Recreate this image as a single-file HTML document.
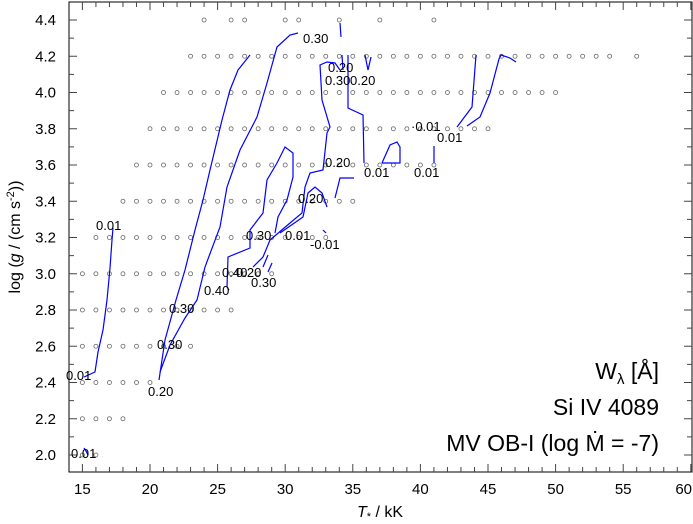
<!DOCTYPE html>
<html><head><meta charset="utf-8"><style>
html,body{margin:0;padding:0;background:#fff;}
svg{display:block;font-family:"Liberation Sans",sans-serif;}
</style></head><body>
<svg id="s" width="693" height="524" viewBox="0 0 693 524" xmlns="http://www.w3.org/2000/svg">
<rect x="69" y="2" width="623" height="470" fill="none" stroke="#000" stroke-width="1"/>
<g id="dots" fill="none" stroke="#666" stroke-width="0.8"></g>
<g id="ticks" stroke="#000" stroke-width="1"></g>
<g fill="none" stroke="#0000ff" stroke-width="1.2">
<polyline points="84,377 95,372 98,352 103,330 107,300 110,268 112,240 113,228"/>
<polyline points="84,448 86,451 88,455"/>
<polyline points="159,380 165,340 176,300 185,270 195,230 203,200 210,170 222,120 230,90 238,70 250,55"/>
<polyline points="160,372 170,345 185,318 197,300 205,267 220,227 227,187 240,150 257,117 267,83 277,47 290,35 298,33"/>
<polyline points="229,290 227,287 228,257 250,248 250,230 263,213 267,180 277,163 285,147 293,153 293,177 287,200 278,217 275,233"/>
<polyline points="253,267 263,257 270,240 290,223 302,213 305,187 310,173 323,170 327,133 330,127 322,100 320,65 327,62 335,63 340,70"/>
<polyline points="280,233 303,217 308,193 315,187 322,193 327,207"/>
<polyline points="340,23 341,37"/>
<polyline points="342,55 343,70"/>
<polyline points="348,55 348,108 363,115 364,163"/>
<polyline points="365,55 368,70 371,57"/>
<polyline points="382,163 390,145 397,142 400,147 400,163 382,163"/>
<polyline points="434,146 434,163"/>
<polyline points="335,198 340,178 354,178"/>
<polyline points="457,127 472,107 476,55"/>
<polyline points="467,126 480,117 490,93 499,59 501,55 510,58 516,62"/>
<polyline points="323,230 326,233"/>
<polyline points="268,255 263,267"/>
<polyline points="272,263 268,272"/>
</g>
<g font-size="13" fill="#000">
<text x="96" y="230">0.01</text>
<text x="66" y="380">0.01</text>
<text x="71" y="458">0.01</text>
<text x="148" y="396">0.20</text>
<text x="157" y="349">0.30</text>
<text x="169" y="313">0.30</text>
<text x="303" y="43">0.30</text>
<text x="328" y="72">0.20</text>
<text x="325" y="85">0.30</text>
<text x="350" y="85">0.20</text>
<text x="325" y="167">0.20</text>
<text x="298" y="203">0.20</text>
<text x="364" y="177">0.01</text>
<text x="414" y="177">0.01</text>
<text x="411" y="131">·0.01</text>
<text x="437" y="142">0.01</text>
<text x="246" y="240">0.30</text>
<text x="285" y="240">0.01</text>
<text x="310" y="249">-0.01</text>
<text x="222" y="277">0.40</text>
<text x="236" y="277">0.20</text>
<text x="251" y="287">0.30</text>
<text x="204" y="295">0.40</text>
</g>
<g font-size="15" fill="#000" text-anchor="middle" id="xl"></g>
<g font-size="15" fill="#000" text-anchor="end" id="yl"></g>
<text x="380" y="517" font-size="16" text-anchor="middle"><tspan font-style="italic">T</tspan><tspan font-size="11" dy="3">*</tspan><tspan dy="-3"> / kK</tspan></text>
<text transform="translate(20,237) rotate(-90)" font-size="16" text-anchor="middle">log (<tspan font-style="italic">g</tspan> / (cm s<tspan font-size="11" dy="-6">-2</tspan><tspan dy="6">))</tspan></text>
<g font-size="23" fill="#000" text-anchor="end">
<text x="659" y="379">W<tspan font-size="15" dy="5">λ</tspan><tspan dy="-5"> [Å]</tspan></text>
<text x="659" y="415">Si IV 4089</text>
<text x="659" y="451">MV OB-I (log Ṁ = -7)</text>
</g>
</svg>
<script>
var NS="http://www.w3.org/2000/svg";
function X(t){return 150+(t-20)*13.52;}
function Y(g){return 455-(g-2)*181.25;}
function el(p,n,a){var e=document.createElementNS(NS,n);for(var k in a)e.setAttribute(k,a[k]);p.appendChild(e);return e;}
var rows=[[4.4,[24,26,27,30,31,34,37,41]],[4.2,null,23,54,[56]],[4.0,null,21,50],[3.8,null,20,45],[3.6,null,19,41],[3.4,null,18,35],[3.2,null,16,33],[3.0,null,15,29],[2.8,null,15,26],[2.6,null,15,23],[2.4,null,15,20],[2.2,null,15,18],[2.0,[15,16]]];
var d=document.getElementById("dots");
rows.forEach(function(r){var ts=[];if(r[1])ts=r[1];else{for(var t=r[2];t<=r[3];t++)ts.push(t);if(r[4])ts=ts.concat(r[4]);}
ts.forEach(function(t){el(d,"circle",{cx:X(t),cy:Y(r[0]),r:2});});});
var tk=document.getElementById("ticks");
for(var t=15;t<=60;t++){var x=X(t);if(x>691)break;var L=(t%5==0)?8:5;var c="#444";
el(tk,"line",{x1:x,y1:472,x2:x,y2:472-L,stroke:c});el(tk,"line",{x1:x,y1:2,x2:x,y2:2+L,stroke:c});}
for(var i=0;i<=25;i++){var g=2+i*0.1;var y=Y(g);if(y<3)break;var maj=(i%2==0);var L=maj?8:5;var c="#444";
el(tk,"line",{x1:69,y1:y,x2:69+L,y2:y,stroke:c});el(tk,"line",{x1:692,y1:y,x2:692-L,y2:y,stroke:c});}
var xl=document.getElementById("xl");
for(var t=15;t<=55;t+=5){var e=el(xl,"text",{x:X(t),y:494});e.textContent=t;}
var e60=el(xl,"text",{x:692,y:494,"text-anchor":"end"});e60.textContent="60";
var yl=document.getElementById("yl");
for(var i=0;i<=12;i++){var g=2+i*0.2;var e=el(yl,"text",{x:56,y:Y(g)+5});e.textContent=g.toFixed(1);}
</script>
</body></html>
